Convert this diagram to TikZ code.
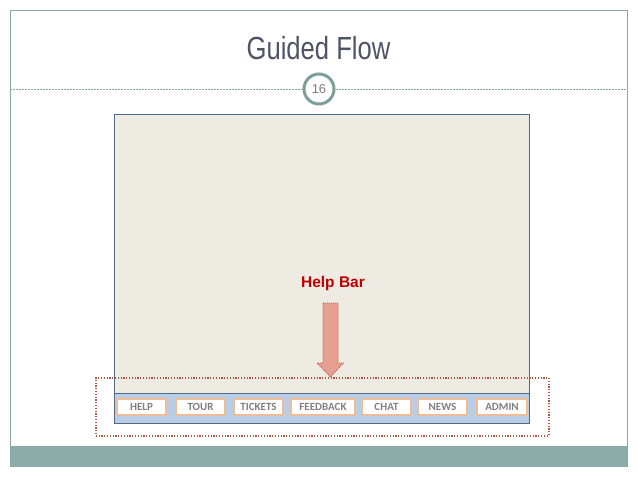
\documentclass[tikz,border=0pt]{standalone}
\usepackage{fontspec}
\setmainfont{Liberation Sans}
\newfontfamily\narrowfont[FakeStretch=0.8]{Liberation Sans}
\newfontfamily\btnfont{Carlito}
\definecolor{frameC}{HTML}{8AA5A3}
\definecolor{bandC}{HTML}{8CACAA}
\definecolor{titleC}{HTML}{4E5466}
\definecolor{circC}{HTML}{7F9E9B}
\definecolor{screenC}{HTML}{EEEBE3}
\definecolor{screenB}{HTML}{4F6B8C}
\definecolor{barC}{HTML}{B9CDE5}
\definecolor{btnB}{HTML}{F0BC96}
\definecolor{btnT}{HTML}{808080}
\definecolor{dotC}{HTML}{A85A45}
\definecolor{arrowF}{HTML}{E5A090}
\definecolor{arrowB}{HTML}{C0504D}
\definecolor{labelC}{HTML}{C00000}
\tikzset{
  btn/.style={draw=btnB, line width=1.2pt, fill=white, minimum height=16pt, inner sep=0pt,
    font=\btnfont\bfseries\fontsize{11}{12}\selectfont, text=btnT},
}
\begin{document}
\begin{tikzpicture}[x=1pt,y=-1pt]
\useasboundingbox (0,0) rectangle (638,479);
\fill[white] (0,0) rectangle (638,479);
% band
\fill[bandC] (10,446) rectangle (627,467);
% frame
\draw[frameC, line width=1pt] (10,467) -- (10,10) -- (627,10) -- (627,467);
% title
\node[text=titleC, font=\narrowfont\fontsize{32}{36}\selectfont] (title) at (318.5,48) {Guided Flow};
% dashed rule with circle
\node[circle, draw=circC, line width=3pt, fill=white, minimum size=30pt, inner sep=0pt,
  text=btnT, font=\fontsize{13}{15}\selectfont] (num) at (319,89) {16};
\coordinate (ruleL) at (10,89);
\coordinate (ruleR) at (627,89);
\draw[frameC, dash pattern=on 2pt off 1pt, line width=0.6pt] (ruleL) -- (num.west);
\draw[frameC, dash pattern=on 2pt off 1pt, line width=0.6pt] (num.east) -- (ruleR);
% screen
\node[draw=screenB, fill=screenC, line width=1pt, minimum width=415pt, minimum height=309pt, inner sep=0pt, anchor=north west] (screen) at (114,114) {};
\node[draw=screenB, fill=barC, line width=1pt, minimum width=415pt, minimum height=30pt, inner sep=0pt, anchor=north west] (bar) at (114,393) {};
% buttons
\node[btn, minimum width=49pt] (b1) at (141.5,407) {HELP};
\node[btn, minimum width=49pt] (b2) at (200.5,407) {TOUR};
\node[btn, minimum width=49pt] (b3) at (258.5,407) {TICKETS};
\node[btn, minimum width=64pt] (b4) at (323,407) {FEEDBACK};
\node[btn, minimum width=49pt] (b5) at (386.5,407) {CHAT};
\node[btn, minimum width=49pt] (b6) at (442.5,407) {NEWS};
\node[btn, minimum width=50pt] (b7) at (502,407) {ADMIN};
% dotted highlight
\node[draw=dotC, line width=1.6pt, dash pattern=on 1.2pt off 1.6pt, minimum width=453pt, minimum height=58pt, inner sep=0pt, anchor=north west] (hl) at (95,377) {};
% arrow
\draw[fill=arrowF, draw=arrowB, line width=0.8pt, dash pattern=on 1pt off 1pt]
  (323,303) -- (338,303) -- (338,363) -- (343.5,363) -- (330.5,377) -- (317,363) -- (323,363) -- cycle;
\node[text=labelC, font=\bfseries\fontsize{15.5}{18}\selectfont] (lbl) at (333,283) {Help Bar};
\end{tikzpicture}
\end{document}
